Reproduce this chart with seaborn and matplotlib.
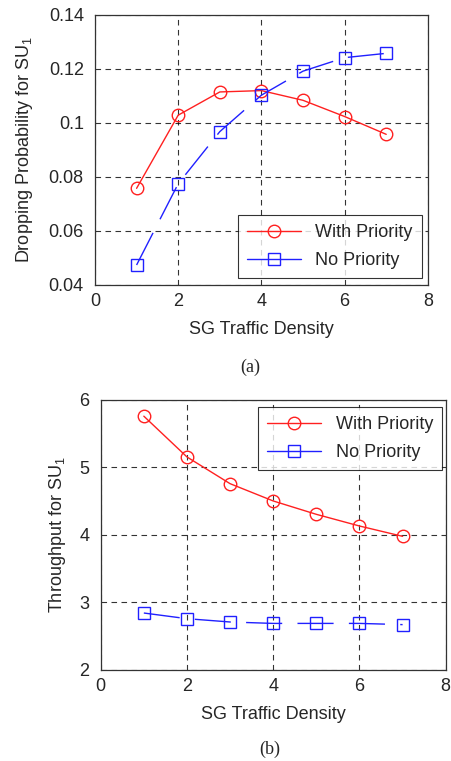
import numpy as np
import pandas as pd
import matplotlib
matplotlib.use("Agg")
import matplotlib.pyplot as plt
import seaborn as sns

density = [1, 2, 3, 4, 5, 6, 7]

drop_with_priority = [0.0758, 0.1029, 0.1115, 0.1120, 0.1084, 0.1024, 0.0958]
drop_no_priority = [0.0474, 0.0775, 0.0968, 0.1103, 0.1192, 0.1242, 0.1258]

thr_with_priority = [5.76, 5.156, 4.76, 4.504, 4.306, 4.133, 3.98]
thr_no_priority = [2.844, 2.76, 2.711, 2.69, 2.69, 2.69, 2.672]

series_names = ["With Priority", "No Priority"]

sns.set_style("white")
plt.rcParams['font.family'] = ['Liberation Sans', 'DejaVu Sans']
plt.rcParams['mathtext.fontset'] = 'custom'
plt.rcParams['mathtext.rm'] = 'Liberation Sans'
plt.rcParams['mathtext.it'] = 'Liberation Sans'

fig = plt.figure(figsize=(4.51, 7.61), dpi=100)
ax1 = fig.add_axes([0.2106, 0.6255, 0.738, 0.3548])
ax2 = fig.add_axes([0.2233, 0.1196, 0.765, 0.3548])

blue_dash = (0, (26, 11))


def draw(ax, y_with, y_no):
    df = pd.DataFrame({"x": density, "with": y_with, "no": y_no})
    sns.lineplot(data=df, x="x", y="with", ax=ax, color="#ff2020", marker="o",
                 markersize=9, markerfacecolor="none", markeredgecolor="#ff2020",
                 markeredgewidth=1.0, linewidth=1.0, label=series_names[0])
    sns.lineplot(data=df, x="x", y="no", ax=ax, color="#2020ff", marker="s",
                 markersize=9, markerfacecolor="none", markeredgecolor="#2020ff",
                 markeredgewidth=1.0, linewidth=1.0, linestyle=blue_dash,
                 label=series_names[1])
    ax.set_xlim(0, 8)
    ax.set_xticks([0, 2, 4, 6, 8])
    ax.grid(True, color="black", linestyle=(0, (5, 4)), linewidth=0.8, alpha=0.8)
    for s in ax.spines.values():
        s.set_color("#333333")
        s.set_linewidth(0.9)
    ax.tick_params(labelsize=13, direction="in", length=3)
    ax.tick_params(axis="y", pad=8)
    ax.tick_params(axis="x", pad=6)
    ax.set_xlabel("SG Traffic Density", fontsize=13, labelpad=8)


draw(ax1, drop_with_priority, drop_no_priority)
ax1.set_ylim(0.04, 0.14)
ax1.set_yticks([0.04, 0.06, 0.08, 0.1, 0.12, 0.14])
ax1.set_yticklabels(["0.04", "0.06", "0.08", "0.1", "0.12", "0.14"])
ax1.set_ylabel("Dropping Probability for SU$_1$", fontsize=13, labelpad=10)
leg1 = ax1.legend(loc="lower right", bbox_to_anchor=(0.982, 0.026), borderaxespad=0,
                  fontsize=13, frameon=True, fancybox=False, handlelength=3.0,
                  borderpad=0.5, labelspacing=0.6)
leg1.get_frame().set_edgecolor("black")
leg1.get_frame().set_linewidth(0.8)
leg1.get_lines()[1].set_linestyle("-")

draw(ax2, thr_with_priority, thr_no_priority)
ax2.set_ylim(2, 6)
ax2.set_yticks([2, 3, 4, 5, 6])
ax2.set_ylabel("Throughput for SU$_1$", fontsize=13, labelpad=8.5)
leg2 = ax2.legend(loc="upper right", bbox_to_anchor=(0.989, 0.974), borderaxespad=0,
                  fontsize=13, frameon=True, fancybox=False, handlelength=3.0,
                  borderpad=0.5, labelspacing=0.6)
leg2.get_frame().set_edgecolor("black")
leg2.get_frame().set_linewidth(0.8)
leg2.get_lines()[1].set_linestyle("-")

fig.text(0.554, 0.5177, "(a)", ha="center", va="center", fontsize=13,
         family="Liberation Serif")
fig.text(0.599, 0.0158, "(b)", ha="center", va="center", fontsize=13,
         family="Liberation Serif")

fig.savefig("out.png", dpi=100)
